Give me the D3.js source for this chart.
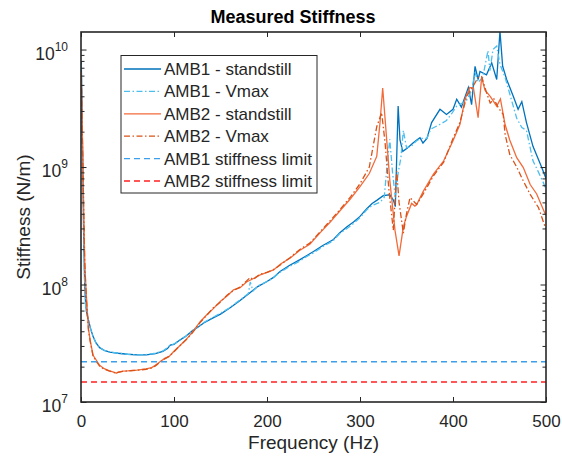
<!DOCTYPE html>
<html>
<head>
<meta charset="utf-8">
<script src="https://cdn.jsdelivr.net/npm/d3@7"></script>
<style>
  body { margin: 0; background: #fff; }
  text { font-family: "Liberation Sans", Arial, sans-serif; fill: #262626; }
</style>
</head>
<body>
<svg id="chart" width="562" height="460"></svg>
<script>
'use strict';

// axis ranges and ticks
const freqDomain = [0, 500];
const stiffDomain = [1e7, 1.41e10];
const freqTicks = [0, 100, 200, 300, 400, 500];
const stiffDecades = [1e7, 1e8, 1e9, 1e10];

// measured curves, [frequency (Hz), stiffness (N/m)]
const amb1Standstill = [
    [0.3, 8e9], [1, 3.5e9], [2, 9e8], [3, 2.2e8], [4, 1.0e8], [5, 6.8e7], [6, 5.8e7], [8, 5.0e7],
    [10, 4.3e7], [13, 3.6e7], [16, 3.2e7], [20, 2.9e7], [25, 2.75e7], [31, 2.66e7], [40, 2.6e7],
    [50, 2.55e7], [60, 2.52e7], [70, 2.52e7], [80, 2.58e7], [88, 2.7e7], [93, 2.85e7], [96, 3.05e7],
    [100, 3.1e7], [106, 3.35e7], [112, 3.6e7], [120, 4.05e7], [126, 4.35e7], [132, 4.7e7], [140, 5.1e7],
    [150, 5.6e7], [160, 6.3e7], [170, 7.2e7], [180, 8.3e7], [190, 9.6e7], [200, 1.06e8], [207, 1.15e8],
    [214, 1.29e8], [224, 1.45e8], [235, 1.62e8], [242, 1.75e8], [250, 1.91e8], [260, 2.15e8],
    [271, 2.4e8], [278, 2.75e8], [286, 3.1e8], [293, 3.4e8], [300, 3.8e8], [307, 4.4e8], [313, 4.9e8],
    [318, 5.2e8], [325, 5.7e8], [332, 5.8e8], [336, 5.2e8], [338, 4.6e8], [341, 3.3e9], [343, 1.7e9],
    [346, 1.36e9], [351, 1.45e9], [357, 1.6e9], [361, 1.7e9], [364.5, 1.78e9], [367.7, 1.6e9],
    [372, 1.75e9], [377, 2.39e9], [386, 3.1e9], [393, 2.8e9], [400, 3.1e9], [404, 3.78e9], [409, 3.23e9],
    [416.5, 4.75e9], [420, 3.4e9], [423.7, 7.2e9], [427, 5.56e9], [429, 6.5e9], [436, 6.1e9],
    [441.6, 7.7e9], [447, 5.56e9], [450.5, 1.43e10], [453.4, 7.2e9], [457.7, 5.56e9], [464.8, 4.0e9],
    [470, 3.1e9], [474, 3.6e9], [479, 2.39e9], [486, 1.5e9], [495, 1.01e9], [500, 8.0e8]
];

const amb1Vmax = [
    [0.3, 7.5e9], [1, 3.3e9], [2, 8.6e8], [3, 2.1e8], [4, 9.8e7], [5, 6.6e7], [6, 5.7e7], [8, 4.9e7],
    [10, 4.25e7], [13, 3.6e7], [16, 3.2e7], [20, 2.9e7], [25, 2.75e7], [31, 2.66e7], [40, 2.6e7],
    [50, 2.55e7], [60, 2.52e7], [70, 2.53e7], [80, 2.6e7], [88, 2.72e7], [93, 2.9e7], [96, 3.05e7],
    [100, 3.12e7], [106, 3.35e7], [112, 3.6e7], [120, 4.05e7], [126, 4.4e7], [132, 4.75e7], [140, 5.15e7],
    [150, 5.7e7], [160, 6.35e7], [170, 7.3e7], [180, 8.4e7], [182, 1.05e8], [185, 8.8e7], [190, 9.7e7],
    [200, 1.06e8], [207, 1.14e8], [214, 1.27e8], [224, 1.42e8], [235, 1.58e8], [242, 1.72e8],
    [250, 1.86e8], [260, 2.1e8], [271, 2.35e8], [278, 2.7e8], [286, 3.0e8], [293, 3.3e8], [300, 3.7e8],
    [307, 4.3e8], [313, 4.7e8], [321.5, 5.0e8], [326, 5.5e8], [329, 1.0e9], [332, 1.72e9], [335, 9e8],
    [338, 5.5e8], [341, 8.9e8], [344, 1.2e9], [346.6, 2.05e9], [350, 1.46e9], [355, 1.5e9],
    [360, 1.65e9], [365, 1.75e9], [372, 1.75e9], [376, 2.1e9], [386, 2.31e9], [393, 2.49e9],
    [398, 2.8e9], [404, 3.3e9], [410, 3.5e9], [414.7, 3.7e9], [420, 4.5e9], [423.7, 6.4e9],
    [427, 5.25e9], [432, 5.8e9], [437.6, 9.8e9], [439.7, 6.6e9], [443, 1.0e10], [447, 1.07e10],
    [450.5, 7.5e9], [456, 5.8e9], [461, 4.2e9], [468.5, 2.6e9], [474, 2.17e9], [479, 2.05e9],
    [486, 1.13e9], [492, 9e8], [497, 7.4e8], [500, 6.5e8]
];

const amb2Standstill = [
    [0.3, 6.5e9], [1, 3e9], [2, 1.1e9], [3, 4e8], [4, 1.6e8], [5, 1.05e8], [6, 7.5e7], [8, 4.2e7],
    [10, 3.3e7], [13, 2.5e7], [16, 2.3e7], [20, 2.05e7], [25, 1.92e7], [30, 1.85e7], [35, 1.8e7],
    [38, 1.76e7], [40, 1.8e7], [45, 1.83e7], [50, 1.84e7], [60, 1.87e7], [70, 1.91e7], [76, 1.96e7],
    [80, 2.05e7], [85, 2.2e7], [90, 2.35e7], [95, 2.45e7], [100, 2.7e7], [106, 3.0e7], [113, 3.4e7],
    [120, 3.95e7], [128, 4.8e7], [135, 5.5e7], [142, 6.2e7], [150, 7.2e7], [157, 8.0e7], [164, 9.0e7],
    [171, 9.4e7], [178, 1.05e8], [185, 1.12e8], [192, 1.2e8], [200, 1.27e8], [207, 1.33e8],
    [215, 1.5e8], [225, 1.68e8], [235, 1.95e8], [246, 2.2e8], [257, 2.75e8], [268, 3.4e8],
    [278, 4.2e8], [290, 5.4e8], [300, 6.8e8], [310, 8.8e8], [318, 1.23e9], [321.5, 2.38e9],
    [324.4, 4.7e9], [327, 2.55e9], [332, 7.8e8], [337.6, 2.9e8], [342, 1.75e8], [346.6, 3.1e8],
    [350, 3.8e8], [355.5, 4.9e8], [359, 4.65e8], [361, 4.8e8], [368, 6.2e8], [379, 8.7e8],
    [390, 1.13e9], [400, 1.67e9], [407.5, 2.31e9], [413, 3.8e9], [418, 4.75e9], [422, 4.7e9],
    [427, 2.63e9], [430.8, 5.8e9], [434.4, 4.5e9], [440, 4.0e9], [447, 3.3e9], [451, 3.8e9],
    [456, 2.3e9], [461, 1.7e9], [468.5, 1.2e9], [475.6, 9.9e8], [483, 7.1e8], [490, 5.9e8],
    [499, 4.0e8], [500, 3.9e8]
];

const amb2Vmax = [
    [0.3, 6e9], [1, 2.8e9], [2, 1.0e9], [3, 3.8e8], [4, 1.55e8], [5, 1.0e8], [6, 7.2e7], [8, 4.1e7],
    [10, 3.25e7], [13, 2.45e7], [16, 2.25e7], [20, 2.02e7], [25, 1.9e7], [30, 1.84e7], [35, 1.79e7],
    [38, 1.75e7], [40, 1.79e7], [45, 1.82e7], [50, 1.84e7], [60, 1.86e7], [70, 1.9e7], [76, 1.95e7],
    [80, 2.03e7], [85, 2.18e7], [90, 2.33e7], [95, 2.45e7], [100, 2.68e7], [106, 3.0e7], [113, 3.38e7],
    [120, 3.9e7], [128, 4.75e7], [135, 5.45e7], [142, 6.3e7], [150, 7.1e7], [157, 8.1e7], [164, 8.9e7],
    [171, 9.5e7], [178, 1.07e8], [182, 1.15e8], [185, 1.1e8], [192, 1.22e8], [200, 1.27e8],
    [207, 1.34e8], [215, 1.48e8], [225, 1.7e8], [235, 1.98e8], [246, 2.25e8], [257, 2.8e8],
    [268, 3.5e8], [278, 4.3e8], [290, 5.6e8], [300, 7.2e8], [310, 1.0e9], [318, 2.2e9],
    [323.3, 2.9e9], [327, 1.6e9], [331, 6.5e8], [335.8, 2.9e8], [339.5, 9.2e8], [342, 5e8],
    [346.6, 2.74e8], [350, 4e8], [353.8, 5.5e8], [361, 4.8e8], [368, 5.9e8], [379, 8.4e8],
    [390, 1.1e9], [400, 1.75e9], [407.5, 2.4e9], [414.7, 4.0e9], [421.8, 4.9e9], [427, 5.8e9],
    [430.8, 5.9e9], [436, 4.3e9], [440, 3.5e9], [444, 3.8e9], [448.7, 3.2e9], [454, 2.8e9],
    [456, 1.9e9], [461, 1.28e9], [468.5, 1.0e9], [475.6, 7.6e8], [483, 5.85e8], [492, 4.5e8],
    [499, 3.1e8], [500, 2.95e8]
];

// stiffness limits (N/m)
const amb1Limit = 2.2e7;
const amb2Limit = 1.48e7;

const seriesNames = [
    'AMB1 - standstill', 'AMB1 - Vmax', 'AMB2 - standstill',
    'AMB2 - Vmax', 'AMB1 stiffness limit', 'AMB2 stiffness limit'
];

const series = [
    { data: amb1Standstill, color: '#0072BD', dash: null },
    { data: amb1Vmax, color: '#4DBEEE', dash: '6,2.5,1.5,2.5' },
    { data: amb2Standstill, color: '#F26B3A', dash: null },
    { data: amb2Vmax, color: '#D95319', dash: '6,2.5,1.5,2.5' },
    { data: freqDomain.map(f => [f, amb1Limit]), color: '#3D9EEA', dash: '6,4' },
    { data: freqDomain.map(f => [f, amb2Limit]), color: '#FF2020', dash: '6,4' }
];

const svg = d3.select('#chart');
const plotLeft = 81, plotRight = 546, plotTop = 32, plotBottom = 402;
const axisColor = '#262626';

const x = d3.scaleLinear().domain(freqDomain).range([plotLeft, plotRight]);
const y = d3.scaleLog().domain(stiffDomain).range([plotBottom, plotTop]);

svg.append('defs').append('clipPath').attr('id', 'plotClip')
    .append('rect')
    .attr('x', plotLeft).attr('y', plotTop)
    .attr('width', plotRight - plotLeft).attr('height', plotBottom - plotTop);

// curves
const line = d3.line()
    .x(d => x(d[0]))
    .y(d => y(d[1]))
    .curve(d3.curveLinear);

const plot = svg.append('g').attr('clip-path', 'url(#plotClip)');

series.forEach(s => {
    plot.append('path')
        .datum(s.data)
        .attr('d', line)
        .attr('fill', 'none')
        .attr('stroke', s.color)
        .attr('stroke-width', 1.3)
        .attr('stroke-dasharray', s.dash);
});

// axes, ticks pointing inwards
const styleAxis = (g) => {
    g.select('.domain').remove();
    g.selectAll('.tick line').attr('stroke', axisColor).attr('stroke-width', 1);
    g.selectAll('.tick text')
        .attr('fill', axisColor)
        .style('font-size', '17px')
        .style('font-family', '"Liberation Sans", Arial, sans-serif');
};

svg.append('g')
    .attr('transform', `translate(0,${plotBottom})`)
    .call(d3.axisBottom(x).tickValues(freqTicks).tickSize(-5).tickPadding(12.5))
    .call(styleAxis);

svg.append('g')
    .attr('transform', `translate(0,${plotTop})`)
    .call(d3.axisTop(x).tickValues(freqTicks).tickSize(-5).tickFormat(''))
    .call(styleAxis);

let minorTicks = [];
stiffDecades.forEach(d => {
    d3.range(2, 10).forEach(k => {
        if (d * k < stiffDomain[1]) minorTicks.push(d * k);
    });
});

[[d3.axisLeft, plotLeft], [d3.axisRight, plotRight]].forEach(([axisFn, pos]) => {
    svg.append('g')
        .attr('transform', `translate(${pos},0)`)
        .call(axisFn(y).tickValues(stiffDecades).tickSize(-5.5).tickFormat(''))
        .call(styleAxis);
    svg.append('g')
        .attr('transform', `translate(${pos},0)`)
        .call(axisFn(y).tickValues(minorTicks).tickSize(-3.5).tickFormat(''))
        .call(styleAxis);
});

// decade labels with superscript exponent
const decadeLabels = svg.append('g').selectAll('text')
    .data(stiffDecades)
    .enter().append('text')
    .attr('x', 68)
    .attr('y', d => y(d) + 10)
    .attr('text-anchor', 'end')
    .style('font-size', '17.5px');

decadeLabels.append('tspan').text('10');
decadeLabels.append('tspan')
    .attr('dy', -9)
    .style('font-size', '12px')
    .text(d => Math.round(Math.log10(d)));

// box
svg.append('rect')
    .attr('x', plotLeft).attr('y', plotTop)
    .attr('width', plotRight - plotLeft).attr('height', plotBottom - plotTop)
    .attr('fill', 'none')
    .attr('stroke', axisColor)
    .attr('stroke-width', 1.6);

// labels
svg.append('text')
    .attr('x', 293).attr('y', 23)
    .attr('text-anchor', 'middle')
    .style('font-size', '18px')
    .style('font-weight', 'bold')
    .style('fill', '#000')
    .text('Measured Stiffness');

svg.append('text')
    .attr('x', (plotLeft + plotRight) / 2).attr('y', 449)
    .attr('text-anchor', 'middle')
    .style('font-size', '19px')
    .text('Frequency (Hz)');

svg.append('text')
    .attr('transform', `translate(30,${(plotTop + plotBottom) / 2}) rotate(-90)`)
    .attr('text-anchor', 'middle')
    .style('font-size', '19px')
    .text('Stiffness (N/m)');

// legend
const legend = svg.append('g');
legend.append('rect')
    .attr('x', 121).attr('y', 55.5)
    .attr('width', 196).attr('height', 137.5)
    .attr('fill', '#fff')
    .attr('stroke', axisColor)
    .attr('stroke-width', 1);

const rowY = d3.scalePoint().domain(seriesNames).range([69, 181]);

seriesNames.forEach((name, i) => {
    const yy = rowY(name);
    legend.append('line')
        .attr('x1', 124).attr('x2', 161)
        .attr('y1', yy).attr('y2', yy)
        .attr('stroke', series[i].color)
        .attr('stroke-width', 1.3)
        .attr('stroke-dasharray', series[i].dash);
    legend.append('text')
        .attr('x', 164).attr('y', yy + 6)
        .style('font-size', '17px')
        .text(name);
});
</script>
</body>
</html>
